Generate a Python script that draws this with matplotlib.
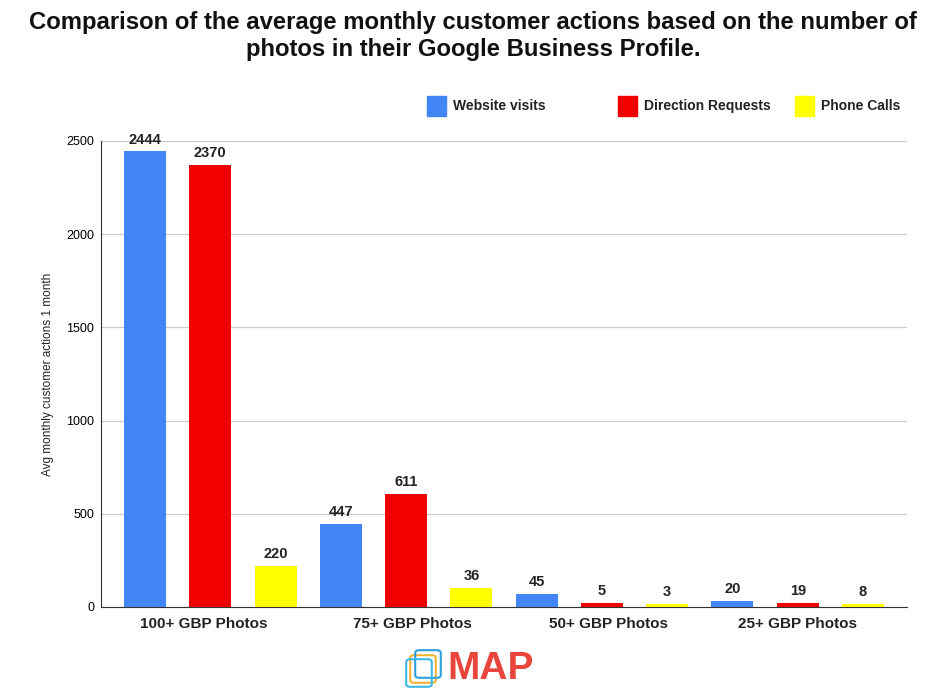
import matplotlib
matplotlib.use("Agg")
import matplotlib.pyplot as plt
from matplotlib.patches import Rectangle, FancyBboxPatch
import numpy as np

plt.rcParams["font.family"] = ["Liberation Sans", "DejaVu Sans"]

# data
categories = ["100+ GBP Photos", "75+ GBP Photos", "50+ GBP Photos", "25+ GBP Photos"]
series = ["Website visits", "Direction Requests", "Phone Calls"]
colors = ["#4285F4", "#F20000", "#FFFF00"]

# labelled values
website_labels = [2444, 447, 45, 20]
direction_labels = [2370, 611, 5, 19]
phone_labels = [220, 36, 3, 8]

# drawn bar heights (small bars are drawn taller than their labels)
website_heights = [2444, 447, 70, 33]
direction_heights = [2370, 607, 22, 21]
phone_heights = [220, 102, 14, 14]

heights = [website_heights, direction_heights, phone_heights]
labels = [website_labels, direction_labels, phone_labels]

fig = plt.figure(figsize=(9.46, 7.0), dpi=100)
ax = fig.add_axes([0.1068, 0.1329, 0.852, 0.6657])

n_series = len(series)
width = 0.643
for s in range(n_series):
    xs = np.arange(len(categories)) * n_series + s
    bars = ax.bar(xs, heights[s], width=width, color=colors[s], zorder=3)
    for b, lab in zip(bars, labels[s]):
        ax.annotate(str(lab), (b.get_x() + b.get_width() / 2, b.get_height()),
                    xytext=(0, 3.5), textcoords="offset points",
                    ha="center", va="bottom", fontsize=10.5, fontweight="bold",
                    color="#222222")

ax.set_xlim(-0.674, len(categories) * n_series - 1 + 0.674)
ax.set_ylim(0, 2500)
ax.set_yticks([0, 500, 1000, 1500, 2000, 2500])
ax.tick_params(axis="y", length=0, labelsize=9, pad=5)
ax.yaxis.grid(True, color="#cccccc", linewidth=0.9, zorder=0)
ax.set_axisbelow(True)

centers = np.arange(len(categories)) * n_series + (n_series - 1) / 2
ax.set_xticks(centers + np.array([-0.1, 0.1, 0.1, 0.0]))
ax.set_xticklabels(categories, fontsize=11, fontweight="bold", color="#222222")
ax.tick_params(axis="x", length=0, pad=7)

for side in ["top", "right"]:
    ax.spines[side].set_visible(False)
ax.spines["left"].set_color("#333333")
ax.spines["bottom"].set_color("#333333")

ax.set_ylabel("Avg monthly customer actions 1 month", fontsize=8.5, color="#222222",
              labelpad=9)

fig.text(0.5, 0.984, "Comparison of the average monthly customer actions based on the number of\n"
         "photos in their Google Business Profile.", ha="center", va="top",
         fontsize=17.2, fontweight="bold", color="#111111", linespacing=1.2)

# legend
leg_x = [427, 618, 795]
for x0, name, c in zip(leg_x, series, colors):
    fig.add_artist(Rectangle((x0 / 946, 1 - 116 / 700), 19 / 946, 20 / 700,
                             transform=fig.transFigure, color=c))
    fig.text((x0 + 26) / 946, 1 - 106 / 700, name, ha="left", va="center",
             fontsize=10, fontweight="bold", color="#222222")

# logo
for dx, dy, c in [(0, 0, "#F2B233"), (5, -5, "#2A9FD8"), (-4, 4, "#3BB7E8")]:
    fig.add_artist(FancyBboxPatch(((414 + dx) / 946, 1 - (680 + dy) / 700), 18 / 946, 22 / 700,
                                  boxstyle="round,pad=0.004", transform=fig.transFigure,
                                  fill=False, edgecolor=c, linewidth=1.5))
fig.text(447 / 946, 1 - 669 / 700, "MAP", ha="left", va="center", fontsize=28,
         fontweight="bold", color="#E8453C")

fig.savefig("out.png", dpi=100)
